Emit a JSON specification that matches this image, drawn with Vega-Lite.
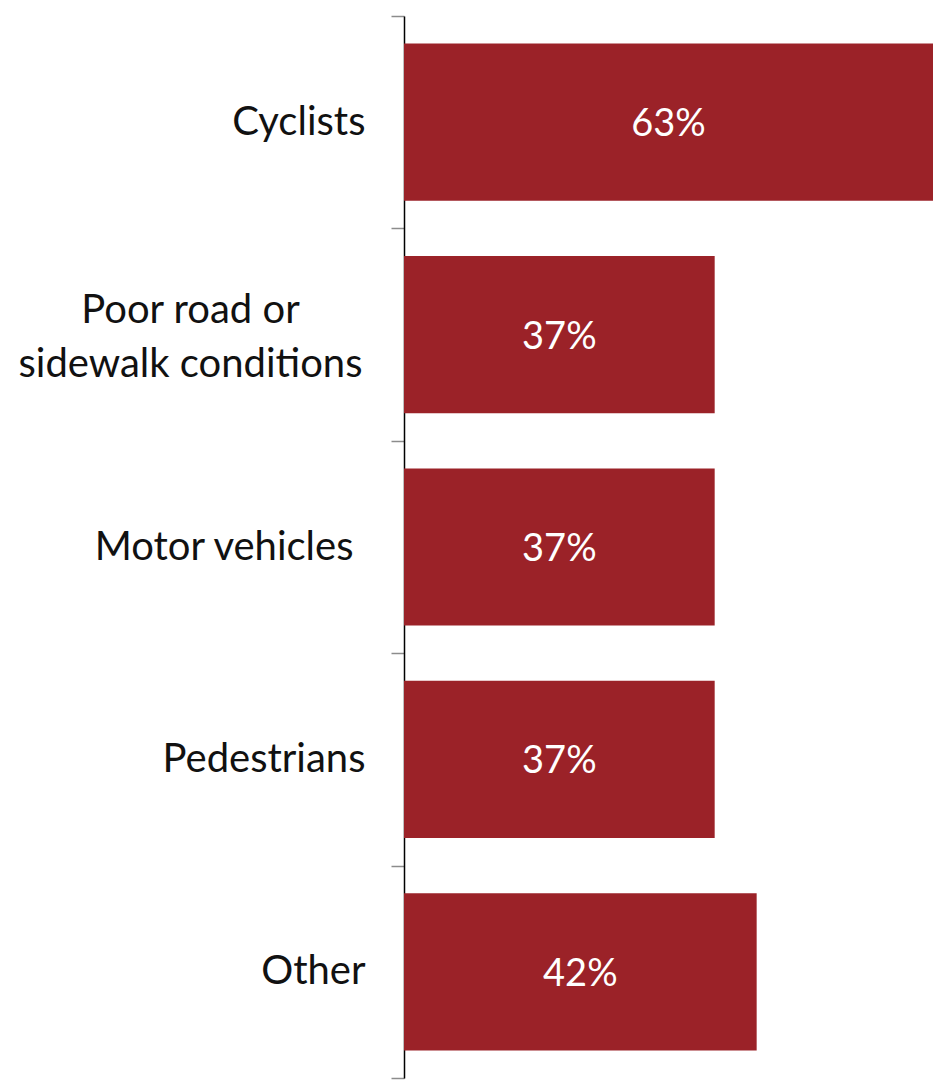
{
  "$schema": "https://vega.github.io/schema/vega-lite/v6.json",
  "autosize": {"type": "none"},
  "padding": {"left": 404, "top": 16, "right": 9, "bottom": 3},
  "width": 529,
  "height": 1062,
  "background": "white",
  "config": {"view": {"stroke": null}, "font": "Lato"},
  "data": {
    "values": [
      {"category": "Cyclists", "value": 0.63},
      {"category": "Poor road or sidewalk conditions", "value": 0.37},
      {"category": "Motor vehicles", "value": 0.37},
      {"category": "Pedestrians", "value": 0.37},
      {"category": "Other", "value": 0.42}
    ]
  },
  "encoding": {
    "y": {
      "field": "category",
      "type": "nominal",
      "sort": null,
      "scale": {"paddingInner": 0, "paddingOuter": 0},
      "axis": {
        "title": null,
        "tickBand": "extent",
        "domainColor": "#000000",
        "domainWidth": 1.5,
        "tickColor": "#8c8c8c",
        "tickWidth": 1.5,
        "tickSize": 13,
        "labelPadding": {"condition": [
          {"test": "datum.value == 'Poor road or sidewalk conditions'", "value": 201},
          {"test": "datum.value == 'Motor vehicles'", "value": 38}
        ], "value": 26},
        "labelOffset": {"condition": {"test": "datum.value == 'Poor road or sidewalk conditions'", "value": -24}, "value": 0},
        "labelFont": "Lato",
        "labelFontSize": 40,
        "labelColor": "#111111",
        "labelLimit": 500,
        "labelLineHeight": 54,
        "labelBaseline": "middle",
        "labelAlign": {"condition": {"test": "datum.value == 'Poor road or sidewalk conditions'", "value": "center"}, "value": "right"},
        "labelExpr": "datum.value == 'Poor road or sidewalk conditions' ? ['Poor road or', 'sidewalk conditions'] : datum.value"
      }
    }
  },
  "layer": [
    {
      "mark": {"type": "bar", "color": "#9b2228", "height": {"band": 0.74}},
      "encoding": {
        "x": {"field": "value", "type": "quantitative", "scale": {"domain": [0, 0.63], "nice": false}, "axis": null}
      }
    },
    {
      "mark": {"type": "text", "color": "white", "font": "Lato", "fontSize": 38, "align": "center", "baseline": "middle", "dy": 3},
      "encoding": {
        "x": {"field": "value", "type": "quantitative", "scale": {"domain": [0, 1.26], "nice": false}, "axis": null},
        "text": {"field": "value", "type": "quantitative", "format": ".0%"}
      }
    }
  ],
  "resolve": {"scale": {"x": "independent"}}
}
